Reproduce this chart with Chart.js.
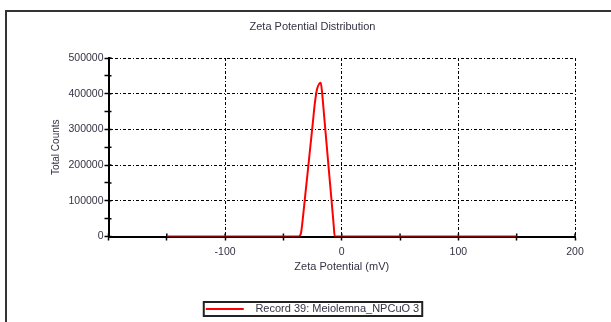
<!DOCTYPE html>
<html>
<head>
<meta charset="utf-8">
<script src="https://cdn.jsdelivr.net/npm/chart.js@4/dist/chart.umd.min.js"></script>
<style>
  html, body { margin: 0; padding: 0; background: #fff; overflow: hidden; }
  canvas { display: block; }
</style>
</head>
<body>
<canvas id="zetaChart" width="625" height="335"></canvas>
<script>
// Zeta potential (mV) and total counts
const zetaMV = [-150, -37, -35, -33, -31, -29, -27, -25, -23, -21, -19, -18, -17, -15, -13, -11, -9, -7, -6, 150];
const totalCounts = [0, 0, 9000, 62000, 125000, 187000, 250000, 312000, 375000, 415000, 429000, 431000, 407000, 334000, 259000, 184000, 110000, 35000, 0, 0];
const seriesLabel = 'Record 39: Meiolemna_NPCuO 3';

const xMin = -200, xMax = 200, xStep = 50;
const yMin = 0, yMax = 500000, yStep = 50000;

const textColor = '#333344';
const fontFamily = "'Liberation Sans', Arial, sans-serif";

const points = zetaMV.map((v, i) => ({ x: v, y: totalCounts[i] }));

// outer frame, ticks that also reach inside the plot, legend box
const framePlugin = {
  id: 'frame',
  beforeDraw(chart) {
    const ctx = chart.ctx;
    ctx.save();
    ctx.fillStyle = '#fff';
    ctx.fillRect(0, 0, chart.width, chart.height);
    ctx.strokeStyle = '#333';
    ctx.lineWidth = 2;
    ctx.strokeRect(6, 11, 700, 400);
    ctx.restore();
  },
  beforeDatasetsDraw(chart) {
    const ctx = chart.ctx;
    const area = chart.chartArea;
    const xs = chart.scales.x, ys = chart.scales.y;
    ctx.save();
    ctx.strokeStyle = '#000';
    ctx.lineWidth = 1.5;
    ctx.beginPath();
    xs.ticks.forEach(t => {
      const px = xs.getPixelForValue(t.value);
      ctx.moveTo(px, area.bottom);
      ctx.lineTo(px, area.bottom - 3);
    });
    ys.ticks.forEach(t => {
      const py = ys.getPixelForValue(t.value);
      ctx.moveTo(area.left, py);
      ctx.lineTo(area.left + 3, py);
    });
    ctx.stroke();
    ctx.restore();
  },
  afterDraw(chart) {
    const hb = chart.legend && chart.legend.legendHitBoxes && chart.legend.legendHitBoxes[0];
    if (!hb) return;
    const ctx = chart.ctx;
    ctx.save();
    ctx.strokeStyle = '#222';
    ctx.lineWidth = 2;
    ctx.strokeRect(hb.left - 2, hb.top - 1.5, hb.width + 5, hb.height + 3);
    ctx.restore();
  }
};

new Chart(document.getElementById('zetaChart').getContext('2d'), {
  type: 'line',
  data: {
    datasets: [{
      label: '  ' + seriesLabel,
      data: points,
      borderColor: '#ff0000',
      backgroundColor: '#ff0000',
      borderWidth: 2,
      pointRadius: 0,
      fill: false,
      cubicInterpolationMode: 'monotone'
    }]
  },
  options: {
    responsive: false,
    animation: false,
    layout: { padding: { left: 0, right: 0, top: 0, bottom: 10.5 } },
    scales: {
      x: {
        type: 'linear',
        min: xMin,
        max: xMax,
        afterFit: (s) => { s.height = 57; },
        border: { display: true, color: '#000', width: 2, dash: [3, 2, 3, 2, 1, 2] },
        grid: {
          color: (c) => (c.tick && c.tick.value % 100 === 0) ? '#000' : 'rgba(0,0,0,0)',
          tickColor: '#000',
          lineWidth: 1,
          tickLength: 4,
          tickWidth: 1.5
        },
        ticks: {
          stepSize: xStep,
          autoSkip: false,
          maxRotation: 0,
          padding: 5,
          color: textColor,
          font: { family: fontFamily, size: 10.5 },
          callback: (v) => (v % 100 === 0 && v !== xMin) ? String(v) : ''
        },
        title: {
          display: true,
          text: 'Zeta Potential (mV)',
          color: textColor,
          font: { family: fontFamily, size: 11 },
          padding: { top: 0, bottom: 20 }
        }
      },
      y: {
        type: 'linear',
        position: 'left',
        min: yMin,
        max: yMax,
        afterFit: (s) => { s.width = 108.5; },
        border: { display: true, color: '#000', width: 2, dash: [3, 2, 3, 2, 1, 2] },
        grid: {
          color: (c) => (c.tick && c.tick.value % 100000 === 0) ? '#000' : 'rgba(0,0,0,0)',
          tickColor: '#000',
          lineWidth: 1,
          tickLength: 4,
          tickWidth: 1.5
        },
        ticks: {
          stepSize: yStep,
          autoSkip: false,
          padding: 1,
          color: textColor,
          font: { family: fontFamily, size: 10.5 },
          callback: (v) => (v % 100000 === 0) ? String(v) : ''
        },
        title: {
          display: true,
          text: 'Total Counts',
          color: textColor,
          font: { family: fontFamily, size: 10 },
          padding: { top: 50.5, bottom: 0 }
        }
      },
      // empty axis on the right, only to hold the right margin
      yRight: {
        type: 'linear',
        position: 'right',
        display: true,
        afterFit: (s) => { s.width = 50; },
        border: { display: false },
        grid: { display: false, drawTicks: false },
        ticks: { display: false }
      }
    },
    plugins: {
      title: {
        display: true,
        text: 'Zeta Potential Distribution',
        color: textColor,
        font: { family: fontFamily, size: 11, weight: 'normal' },
        padding: { top: 20.4, bottom: 24.4 }
      },
      legend: {
        display: true,
        position: 'bottom',
        labels: {
          usePointStyle: true,
          pointStyle: 'line',
          pointStyleWidth: 38,
          padding: 10,
          color: textColor,
          font: { family: fontFamily, size: 11 }
        }
      },
      tooltip: { enabled: false }
    }
  },
  plugins: [framePlugin]
});
</script>
</body>
</html>
